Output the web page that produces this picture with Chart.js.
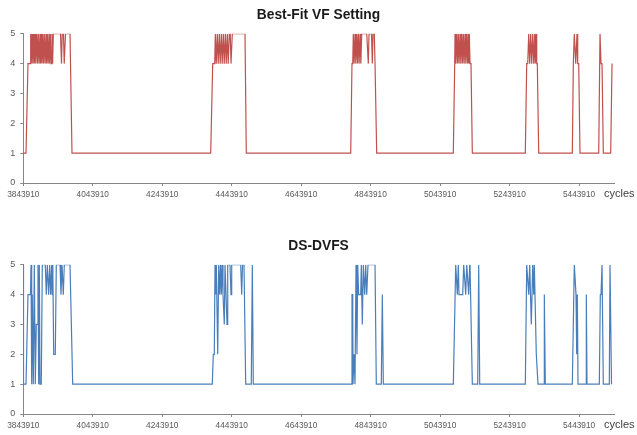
<!DOCTYPE html>
<html>
<head>
<meta charset="utf-8">
<script src="https://cdn.jsdelivr.net/npm/chart.js@4.4.1/dist/chart.umd.min.js"></script>
<style>
  html, body { margin: 0; padding: 0; background: #fff; overflow: hidden; }
  .box { position: absolute; left: 0; width: 637px; height: 205px; }
  .unit { position: absolute; font: 11px "Liberation Sans", Arial, sans-serif; color: #404040; }
</style>
</head>
<body>
<div class="box" style="top:0"><canvas id="bestFitChart" width="637" height="205"></canvas></div>
<div class="unit" style="left:604px; top:187px">cycles</div>
<div class="box" style="top:231px"><canvas id="dsChart" width="637" height="205"></canvas></div>
<div class="unit" style="left:604px; top:418px">cycles</div>
<script>
// x axis labels (cycles)
const xTicks = [3843910, 4043910, 4243910, 4443910, 4643910, 4843910, 5043910, 5243910, 5443910];
const xMin = 3843910;
const xMax = 5546500;

// Best-Fit VF Setting
const bestFitCycles = [
  3843910, 3851700, 3857400, 3863200,
  3865200, 3866900, 3869000, 3871300, 3873900, 3875600, 3877600, 3879900, 3882500, 3884800, 3887100,
  3889400, 3892000, 3893700, 3895700, 3897700, 3899800, 3902100, 3904400, 3906700, 3909300, 3911000,
  3913000, 3915300, 3917900, 3919600, 3921600, 3923900, 3926500, 3928300, 3930300,
  3951000, 3953900, 3955900, 3959600, 3961700, 3965400, 3978400, 3984100,
  4383400, 4389200, 4395000, 4396700, 4399300, 4402400, 4405000, 4408200, 4410800, 4414000, 4416500,
  4419700, 4422300, 4425500, 4428100, 4431200, 4433800, 4437000, 4439600, 4441900, 4445600, 4482200, 4485900,
  4786500, 4790200, 4792300, 4794000, 4796300, 4798900, 4801200, 4803800, 4806100, 4808400, 4810700,
  4813300, 4815600, 4818200, 4832600, 4837200, 4839200, 4846400, 4848700, 4850700, 4854400, 4856500,
  4857900, 4861300,
  5081900, 5085900, 5086800, 5089100, 5091700, 5094000, 5096300, 5098600, 5101200, 5103500, 5106100,
  5108400, 5110700, 5113000, 5115600, 5117900, 5120500, 5122800, 5125100, 5126500, 5127900, 5130000,
  5132800, 5136600,
  5289200, 5293200, 5296100, 5299000, 5301800, 5304700, 5307600, 5310500, 5313400, 5316200, 5318000,
  5320000, 5322000, 5323700, 5327700,
  5424500, 5427400, 5430200, 5434300, 5438000, 5440000, 5442900, 5446600,
  5500500, 5504200, 5507100, 5510000, 5513700, 5535000, 5538800
];
const bestFitLevel = [
  1, 1, 4, 4,
  5, 4, 5, 4, 5, 4, 5, 4, 5, 4, 5,
  4, 5, 4, 5, 4, 5, 4, 5, 4, 5, 4,
  5, 4, 5, 4, 5, 4, 5, 4, 5,
  5, 4, 5, 5, 4, 5, 5, 1,
  1, 4, 4, 5, 4, 5, 4, 5, 4, 5, 4,
  5, 4, 5, 4, 5, 4, 5, 5, 4, 5, 5, 1,
  1, 4, 4, 5, 4, 5, 4, 5, 4, 5, 4,
  5, 4, 5, 5, 4, 5, 5, 4, 5, 5, 4,
  4, 1,
  1, 4, 5, 4, 5, 4, 5, 4, 5, 4, 5,
  4, 5, 4, 5, 4, 5, 4, 5, 4, 5, 4,
  4, 1,
  1, 4, 4, 5, 4, 5, 4, 5, 4, 5, 4,
  5, 4, 4, 1,
  1, 4, 5, 4, 5, 4, 4, 1,
  1, 5, 4, 4, 1, 1, 4
];

// DS-DVFS
const dsCycles = [
  3843910, 3844500, 3851700, 3857400, 3864600, 3866100, 3868100, 3869800, 3871800, 3872700,
  3875600, 3878500, 3881300, 3884200, 3886200, 3888200, 3890000, 3892000, 3895700, 3898600,
  3907200, 3910100, 3913000, 3917000, 3919900, 3922800, 3925700, 3927400, 3928800, 3931400,
  3936000, 3938900, 3949600, 3952400, 3955300, 3959100, 3961900, 3978400, 3986100,
  4388000, 4390900, 4393800, 4395800, 4397800, 4399600, 4403600, 4406500, 4409300, 4411600,
  4414000, 4416000, 4418800, 4422600, 4424600, 4427500, 4430400, 4432400, 4439000, 4441900,
  4443900, 4469800, 4472700, 4475000, 4479300, 4484200, 4500300, 4503200, 4506100,
  4787400, 4790200, 4792300, 4793100, 4796000, 4798900, 4801800, 4804600, 4806600, 4809500,
  4815300, 4817000, 4819900, 4822800, 4826800, 4829700, 4832600, 4836300, 4856500, 4860200,
  4874600, 4877500, 4880400,
  5081900, 5088800, 5093400, 5096300, 5098300, 5108900, 5111800, 5117600, 5120500, 5126200,
  5129100, 5130000, 5136600, 5152100, 5155000, 5157900,
  5289200, 5293200, 5299000, 5301800, 5306400, 5310500, 5313400, 5315100, 5320800, 5325700,
  5343000, 5343900, 5346700,
  5424500, 5430200, 5435100, 5437100, 5438900, 5440900, 5463900, 5464800, 5466800, 5502200,
  5505100, 5507100, 5510000, 5513700, 5531000, 5533000, 5537300
];
const dsLevel = [
  5, 1, 1, 4, 4, 5, 1, 4, 4, 1,
  5, 1, 3, 3, 5, 1, 5, 1, 1, 5,
  5, 4, 5, 4, 5, 4, 5, 4, 5, 2,
  2, 5, 5, 4, 5, 4, 5, 5, 1,
  1, 2, 2, 5, 4, 5, 2, 5, 4, 5,
  4, 5, 4, 3, 5, 4, 3, 5, 5, 4,
  5, 5, 4, 5, 5, 1, 1, 5, 1,
  1, 4, 4, 1, 2, 1, 5, 2, 5, 4,
  4, 5, 3, 5, 4, 5, 4, 5, 5, 1,
  1, 4, 1,
  1, 5, 4, 5, 4, 4, 5, 4, 5, 4,
  5, 5, 1, 1, 5, 1,
  1, 5, 4, 5, 3, 5, 4, 5, 2, 1,
  1, 4, 1,
  1, 5, 4, 2, 4, 1, 1, 4, 1, 1,
  4, 4, 5, 1, 1, 5, 1
];

const axisGray = "#868686";
const labelGray = "#595959";
const font = "'Liberation Sans', Arial, sans-serif";

function makeChart(id, title, xs, ys, color) {
  const pts = xs.map((x, i) => ({ x: x, y: ys[i] }));
  return new Chart(document.getElementById(id), {
    type: "line",
    data: {
      datasets: [{
        data: pts,
        borderColor: color,
        borderWidth: 1.2,
        pointRadius: 0,
        tension: 0,
        fill: false
      }]
    },
    options: {
      responsive: false,
      animation: false,
      layout: { padding: 0 },
      plugins: {
        legend: { display: false },
        tooltip: { enabled: false },
        title: {
          display: true,
          text: title,
          color: "#1a1a1a",
          font: { family: font, size: 13.8, weight: "bold" },
          padding: { top: 7, bottom: 10.2 }
        }
      },
      scales: {
        x: {
          type: "linear",
          min: xMin,
          max: xMax,
          afterBuildTicks: s => { s.ticks = xTicks.map(v => ({ value: v })); },
          afterFit: s => { s.height = 22; },
          border: { color: axisGray },
          grid: { drawOnChartArea: false, tickLength: 3, color: axisGray },
          ticks: {
            autoSkip: false,
            maxRotation: 0,
            padding: 3.5,
            color: labelGray,
            font: { family: font, size: 8.3 },
            callback: v => String(v)
          }
        },
        y: {
          min: 0,
          max: 5,
          afterFit: s => { s.width = 23.3; },
          border: { color: axisGray },
          grid: { drawOnChartArea: false, tickLength: 3, color: axisGray },
          ticks: {
            stepSize: 1,
            padding: 5,
            color: labelGray,
            font: { family: font, size: 9 }
          }
        },
        // empty right strip so the plot ends where the reference does
        spacer: {
          position: "right",
          afterFit: s => { s.width = 22.3; },
          border: { display: false },
          grid: { display: false },
          ticks: { display: false }
        }
      }
    }
  });
}

makeChart("bestFitChart", "Best-Fit VF Setting", bestFitCycles, bestFitLevel, "#C0504D");
makeChart("dsChart", "DS-DVFS", dsCycles, dsLevel, "#4A7EBB");
</script>
</body>
</html>
